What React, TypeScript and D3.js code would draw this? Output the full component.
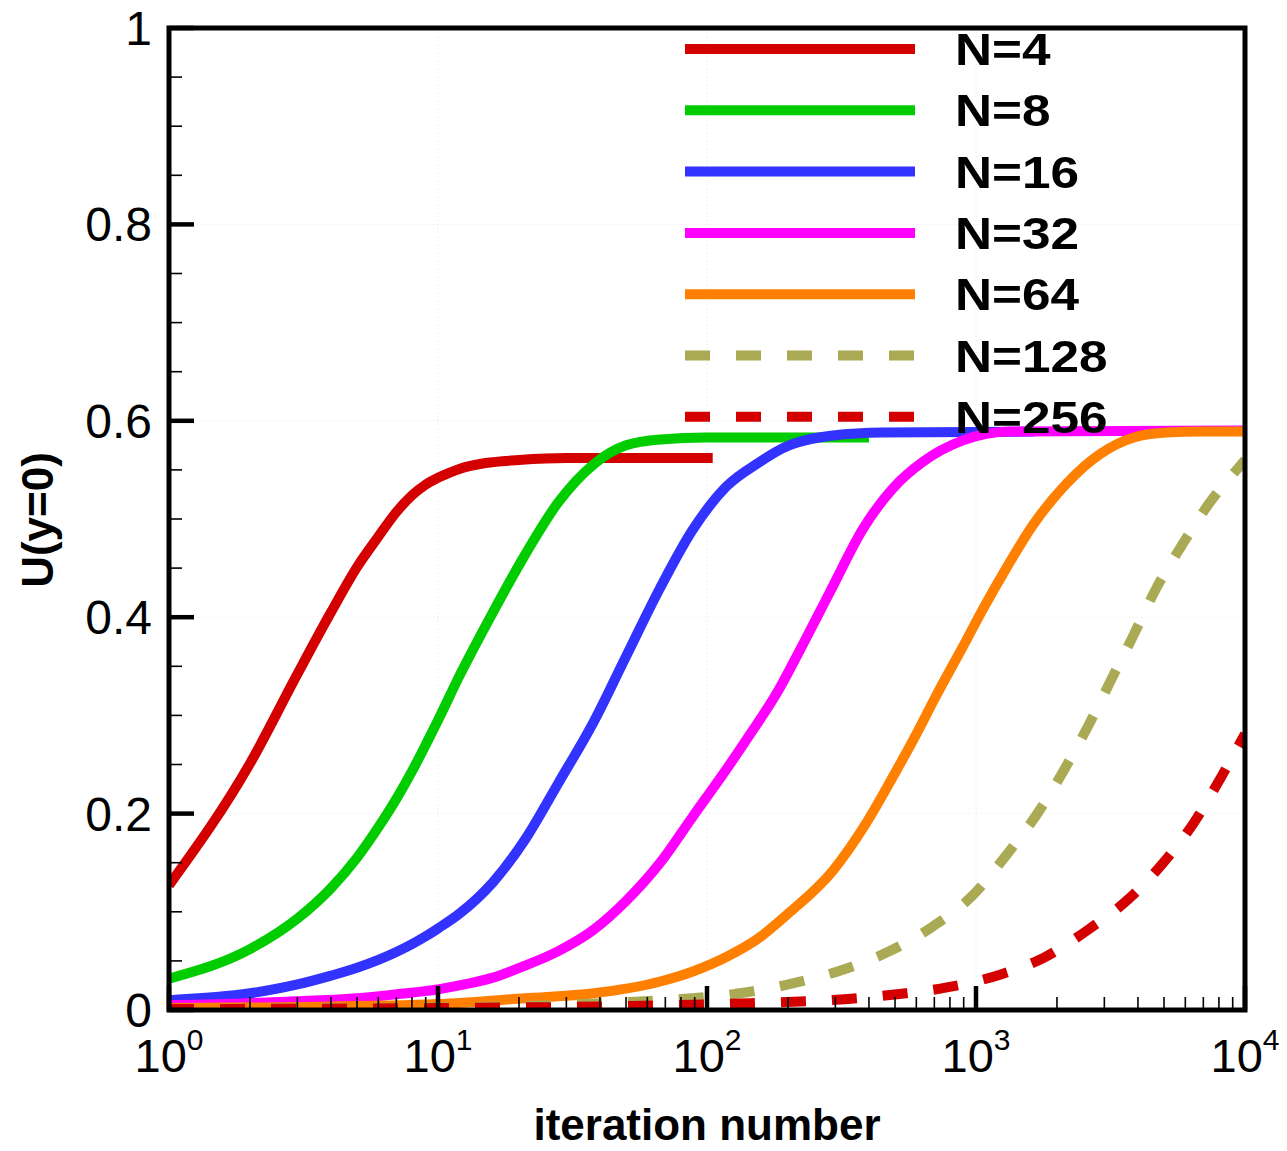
import React from "react";
import * as d3 from "d3";

// ---- data ----
const n4Iter = [1, 2, 3, 4, 5, 6, 7, 8, 9, 10, 11, 12, 15, 20, 30, 50, 105];
const n4Val = [0.127, 0.251, 0.342, 0.405, 0.451, 0.482, 0.507, 0.524, 0.535, 0.542, 0.547, 0.551, 0.557, 0.56, 0.562, 0.562, 0.562];

const n8Iter = [1, 2, 3, 4, 5, 6, 7, 8, 9, 10, 12, 16, 21, 28, 38, 50, 67, 100, 150, 400];
const n8Val = [0.032, 0.062, 0.093, 0.124, 0.155, 0.186, 0.215, 0.243, 0.27, 0.295, 0.34, 0.405, 0.463, 0.517, 0.556, 0.575, 0.581, 0.583, 0.583, 0.583];

const n16Iter = [1, 2, 3, 4, 5, 6, 7, 8, 9, 10, 12, 16, 21, 28, 38, 50, 67, 88, 118, 157, 191, 294, 450, 1650];
const n16Val = [0.01, 0.017, 0.026, 0.035, 0.043, 0.051, 0.059, 0.067, 0.075, 0.083, 0.098, 0.13, 0.173, 0.231, 0.294, 0.36, 0.43, 0.488, 0.533, 0.558, 0.572, 0.585, 0.588, 0.589];

const n32Iter = [1, 2, 3, 5, 7, 10, 12, 16, 21, 28, 38, 50, 67, 88, 118, 144, 182, 222, 288, 380, 490, 633, 894, 1340, 10000];
const n32Val = [0.005, 0.007, 0.009, 0.012, 0.016, 0.021, 0.025, 0.033, 0.045, 0.06, 0.082, 0.111, 0.15, 0.196, 0.245, 0.28, 0.323, 0.367, 0.427, 0.49, 0.531, 0.558, 0.58, 0.589, 0.59];

const n64Iter = [1, 3, 10, 21, 38, 67, 88, 118, 157, 198, 294, 390, 490, 600, 711, 894, 1060, 1290, 1630, 2170, 2890, 3860, 5100, 7000, 10000];
const n64Val = [0.002, 0.003, 0.006, 0.012, 0.017, 0.029, 0.039, 0.054, 0.074, 0.097, 0.142, 0.19, 0.237, 0.281, 0.32, 0.37, 0.408, 0.449, 0.494, 0.536, 0.566, 0.583, 0.588, 0.589, 0.589];

const n128Iter = [1, 5, 20, 50, 88, 132, 208, 320, 478, 690, 975, 1290, 1690, 2110, 2620, 3150, 3840, 4690, 5820, 7410, 9580, 10000];
const n128Val = [0.001, 0.002, 0.004, 0.008, 0.012, 0.017, 0.027, 0.041, 0.06, 0.085, 0.117, 0.157, 0.2, 0.243, 0.29, 0.334, 0.381, 0.43, 0.473, 0.517, 0.554, 0.56];

const n256Iter = [1, 10, 50, 144, 325, 508, 780, 1228, 1780, 2620, 3690, 4970, 6430, 8070, 9860, 10000];
const n256Val = [0.001, 0.002, 0.004, 0.007, 0.011, 0.016, 0.023, 0.036, 0.053, 0.082, 0.113, 0.15, 0.19, 0.235, 0.278, 0.281];

const seriesLabels = ["N=4", "N=8", "N=16", "N=32", "N=64", "N=128", "N=256"];
const seriesColors = ["#d40000", "#00cc00", "#3333ff", "#ff00ff", "#ff8000", "#aaaa55", "#d40000"];
const seriesDashed = [false, false, false, false, false, true, true];
const seriesIters = [n4Iter, n8Iter, n16Iter, n32Iter, n64Iter, n128Iter, n256Iter];
const seriesVals = [n4Val, n8Val, n16Val, n32Val, n64Val, n128Val, n256Val];

const yTicks = [0, 0.2, 0.4, 0.6, 0.8, 1];
const yTickLabels = ["0", "0.2", "0.4", "0.6", "0.8", "1"];
const xDecades = [1, 10, 100, 1000, 10000];
const xExponents = ["0", "1", "2", "3", "4"];

const FONT = "'Liberation Sans', Arial, Helvetica, sans-serif";

export default function App() {
  const W = 1287;
  const H = 1151;
  const left = 169, right = 1245, top = 28, bottom = 1010;
  const x = d3.scaleLog().domain([1, 1e4]).range([left, right]);
  const y = d3.scaleLinear().domain([0, 1]).range([bottom, top]);

  const line = d3
    .line<[number, number]>()
    .x((d) => x(d[0]))
    .y((d) => y(d[1]))
    .curve(d3.curveMonotoneX);

  const minorY = d3.range(0, 1.0001, 0.05).filter((v) => Math.abs(v * 5 - Math.round(v * 5)) > 1e-6);
  const minorX: number[] = [];
  for (let dec = 1; dec < 1e4; dec *= 10) for (let k = 2; k <= 9; k++) minorX.push(dec * k);

  const legendY0 = 49;
  const legendStep = 61.3;

  return (
    <svg
      width={W}
      height={H}
      style={{ position: "absolute", left: 0, top: 0, background: "#fff" }}
      fontFamily={FONT}
    >
      <defs>
        <clipPath id="plotClip">
          <rect x={left} y={top - 10} width={right - left} height={bottom - top + 10} />
        </clipPath>
      </defs>
      <rect x={0} y={0} width={W} height={H} fill="#fff" />

      {/* faint dotted grid */}
      {yTicks.slice(1, -1).map((v) => (
        <line key={"gy" + v} x1={left} x2={right} y1={y(v)} y2={y(v)} stroke="#e4e4e4" strokeWidth={1} strokeDasharray="1 3" />
      ))}
      {xDecades.slice(1, -1).map((v) => (
        <line key={"gx" + v} x1={x(v)} x2={x(v)} y1={top} y2={bottom} stroke="#e4e4e4" strokeWidth={1} strokeDasharray="1 3" />
      ))}

      {/* curves */}
      <g clipPath="url(#plotClip)">
        {seriesIters.map((its, i) => {
          const pts = its.map((it, j) => [it, seriesVals[i][j]] as [number, number]);
          return (
            <path
              key={"s" + i}
              d={line(pts) || ""}
              fill="none"
              stroke={seriesColors[i]}
              strokeWidth={10}
              strokeDasharray={seriesDashed[i] ? "25 26" : undefined}
              strokeLinejoin="round"
            />
          );
        })}
      </g>

      {/* ticks left */}
      {yTicks.map((v) => (
        <line key={"ty" + v} x1={left} x2={left + 25} y1={y(v)} y2={y(v)} stroke="#000" strokeWidth={4.5} />
      ))}
      {minorY.map((v) => (
        <line key={"tmy" + v} x1={left} x2={left + 13} y1={y(v)} y2={y(v)} stroke="#000" strokeWidth={1.6} />
      ))}
      {/* ticks bottom */}
      {xDecades.map((v) => (
        <line key={"tx" + v} x1={x(v)} x2={x(v)} y1={bottom} y2={bottom - 24} stroke="#000" strokeWidth={4.5} />
      ))}
      {minorX.map((v) => (
        <line key={"tmx" + v} x1={x(v)} x2={x(v)} y1={bottom} y2={bottom - 13} stroke="#000" strokeWidth={1.6} />
      ))}

      {/* frame */}
      <rect x={left} y={top} width={right - left} height={bottom - top} fill="none" stroke="#000" strokeWidth={5} />

      {/* y tick labels */}
      {yTicks.map((v, i) => (
        <text key={"ly" + v} x={152} y={y(v) + 17} textAnchor="end" fontSize={48} fill="#000">
          {yTickLabels[i]}
        </text>
      ))}
      {/* x tick labels */}
      {xDecades.map((v, i) => (
        <text key={"lx" + v} x={x(v)} y={1072} textAnchor="middle" fontSize={47} fill="#000">
          10
          <tspan dy={-22} fontSize={30}>
            {xExponents[i]}
          </tspan>
        </text>
      ))}

      {/* axis titles */}
      <text x={707} y={1140} textAnchor="middle" fontSize={44} fontWeight="bold" fill="#000">
        iteration number
      </text>
      <text
        transform={`translate(53,520) rotate(-90)`}
        textAnchor="middle"
        fontSize={44}
        fontWeight="bold"
        fill="#000"
      >
        U(y=0)
      </text>

      {/* legend */}
      {seriesLabels.map((lab, i) => {
        const ly = legendY0 + i * legendStep;
        return (
          <g key={"lg" + i}>
            <line
              x1={685}
              x2={915}
              y1={ly}
              y2={ly}
              stroke={seriesColors[i]}
              strokeWidth={10}
              strokeDasharray={seriesDashed[i] ? "25 26" : undefined}
            />
            <text
              transform={`translate(955,${ly + 16}) scale(1.14,1)`}
              fontSize={45}
              fontWeight="bold"
              fill="#000"
            >
              {lab}
            </text>
          </g>
        );
      })}
    </svg>
  );
}
